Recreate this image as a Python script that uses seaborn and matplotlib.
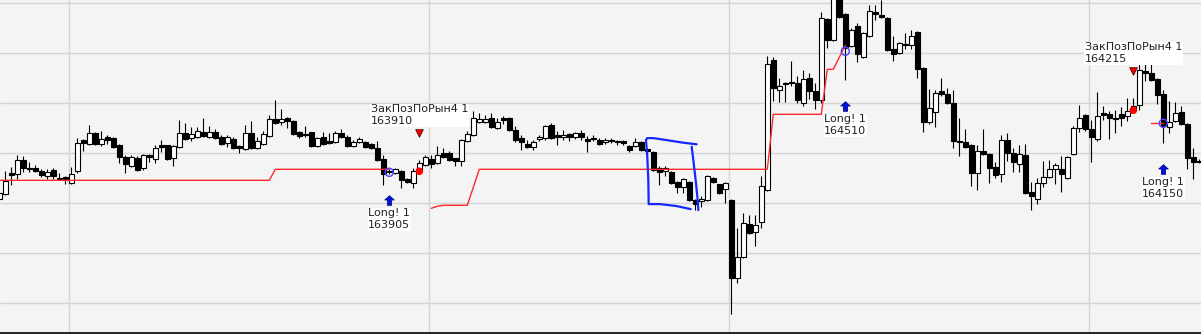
import numpy as np
import pandas as pd
import matplotlib
matplotlib.use("Agg")
import matplotlib.pyplot as plt
import seaborn as sns

nan = np.nan

# ---- candle data (index, open, high, low, close) ----
opens = [
    163770, 163795, 163900, 163895, 163965, 163925, 163925, 163910, 163885, 163915,
    163875, 163880, 163850, 163910, 164065, 164045, 164100, 164045, 164080, 164075,
    164040, 163980, 163935, 163975, 163925, 163990, 163970, 164040, 164040, 163975,
    164030, 164100, 164075, 164080, 164105, 164080, 164105, 164080, 164050, 164070,
    164035, 164020, 164100, 164025, 164045, 164085, 164170, 164155, 164175, 164160,
    164105, 164095, 164105, 164035, 164080, 164060, 164055, 164100, 164080, 164035,
    164055, 164055, 164045, 164025, 163970, 163905, 163900, 163910, 163870, 163850,
    163915, 163940, 163970, 163950, 164000, 164000, 163975, 163960, 164060, 164090,
    164155, 164155, 164175, 164125, 164175, 164175, 164115, 164075, 164045, 164030,
    164070, 164075, 164140, 164090, 164080, 164095, 164080, 164100, 164070, 164075,
    164065, 164055, 164065, 164060, 164060, 164035, 164035, 164055, 164020, 164005,
    163925, 163910, 163905, 163855, 163830, 163855, 163765, 163760, 163765, 163875,
    163845, 163820, 163765, 163375, 163480, 163645, 163605, 163655, 163815, 164465,
    164315, 164350, 164355, 164350, 164250, 164375, 164310, 164265, 164670, 164565,
    164790, 164695, 164535, 164635, 164480, 164585, 164705, 164690, 164675, 164520,
    164500, 164545, 164540, 164605, 164425, 164155, 164205, 164310, 164295, 164250,
    164060, 164055, 164040, 163900, 164010, 163995, 163930, 163895, 164065, 164000,
    163945, 163990, 163805, 163770, 163850, 163880, 163920, 163920, 163875, 163995,
    164125, 164190, 164120, 164070, 164200, 164195, 164175, 164195, 164185, 164215,
    164240, 164410, 164400, 164370, 164295, 164130, 164160, 164205, 164145, 163980,
    163960,
]
highs = [
    163810, 163910, 163930, 163990, 163985, 163955, 163940, 163920, 163920, 163925,
    163900, 163885, 163930, 164075, 164070, 164140, 164105, 164110, 164090, 164080,
    164045, 163990, 163990, 163985, 163995, 163995, 164040, 164065, 164040, 164040,
    164165, 164150, 164130, 164130, 164175, 164135, 164120, 164090, 164090, 164080,
    164040, 164140, 164160, 164080, 164110, 164190, 164265, 164220, 164180, 164165,
    164110, 164135, 164105, 164080, 164105, 164100, 164110, 164120, 164090, 164065,
    164080, 164060, 164050, 164060, 163990, 163925, 163925, 163915, 163875, 163925,
    163965, 163990, 163990, 164035, 164025, 164010, 163975, 164070, 164110, 164210,
    164200, 164190, 164200, 164175, 164185, 164180, 164135, 164090, 164065, 164065,
    164090, 164140, 164150, 164110, 164115, 164100, 164105, 164115, 164085, 164090,
    164075, 164075, 164075, 164065, 164065, 164040, 164075, 164060, 164025, 164010,
    163935, 163935, 163910, 163860, 163875, 163860, 163770, 163785, 163890, 163880,
    163845, 163855, 163770, 163625, 163700, 163690, 163690, 163885, 164485, 164480,
    164375, 164355, 164460, 164385, 164415, 164400, 164350, 164705, 164675, 164800,
    164800, 164700, 164625, 164650, 164605, 164740, 164740, 164765, 164680, 164585,
    164555, 164600, 164615, 164610, 164430, 164320, 164315, 164375, 164325, 164315,
    164175, 164120, 164045, 164040, 164120, 164000, 163955, 164090, 164100, 164025,
    164040, 164045, 163855, 163875, 163960, 163965, 163950, 163985, 163985, 164135,
    164240, 164195, 164165, 164305, 164235, 164210, 164215, 164230, 164275, 164275,
    164465, 164485, 164460, 164375, 164315, 164260, 164255, 164235, 164150, 164025,
    163970,
]
lows = [
    163765, 163790, 163840, 163870, 163905, 163905, 163905, 163880, 163870, 163870,
    163865, 163845, 163845, 163900, 164010, 164040, 164040, 164035, 164045, 164025,
    163950, 163900, 163930, 163910, 163915, 163955, 163950, 164005, 163965, 163935,
    164025, 164065, 164060, 164075, 164080, 164075, 164070, 164040, 164030, 164020,
    164000, 164015, 164020, 164020, 164040, 164080, 164145, 164140, 164125, 164090,
    164075, 164080, 164030, 164030, 164040, 164045, 164050, 164075, 164030, 164030,
    164050, 164025, 164020, 163960, 163840, 163895, 163895, 163825, 163850, 163825,
    163910, 163935, 163925, 163945, 163975, 163960, 163935, 163935, 164055, 164085,
    164150, 164150, 164125, 164120, 164145, 164110, 164055, 164015, 164025, 164015,
    164060, 164065, 164070, 164040, 164065, 164060, 164070, 164065, 164005, 164060,
    164040, 164045, 164050, 164040, 164040, 164005, 164030, 164010, 164000, 163910,
    163840, 163885, 163845, 163800, 163800, 163760, 163715, 163730, 163760, 163850,
    163795, 163750, 163195, 163350, 163475, 163595, 163535, 163625, 163810, 164260,
    164255, 164255, 164335, 164250, 164235, 164270, 164220, 164250, 164525, 164560,
    164675, 164365, 164530, 164455, 164475, 164580, 164665, 164675, 164510, 164460,
    164495, 164520, 164520, 164375, 164105, 164145, 164130, 164285, 164245, 164025,
    163985, 164025, 163835, 163815, 163990, 163850, 163875, 163855, 163960, 163905,
    163905, 163795, 163715, 163745, 163830, 163875, 163845, 163805, 163870, 163990,
    164105, 164110, 163955, 164060, 164165, 164070, 164100, 164135, 164160, 164210,
    164215, 164360, 164360, 164245, 164050, 164100, 164155, 164140, 163920, 163870,
    163950,
]
closes = [
    163800, 163860, 163890, 163965, 163925, 163920, 163910, 163890, 163905, 163885,
    163870, 163870, 163895, 164050, 164050, 164100, 164045, 164070, 164065, 164030,
    163980, 163945, 163980, 163915, 163990, 163980, 164025, 164030, 163970, 164035,
    164100, 164070, 164095, 164110, 164085, 164105, 164075, 164045, 164080, 164025,
    164025, 164100, 164025, 164060, 164095, 164170, 164150, 164170, 164160, 164095,
    164085, 164090, 164035, 164075, 164045, 164050, 164100, 164080, 164035, 164055,
    164070, 164030, 164025, 163965, 163895, 163910, 163920, 163865, 163855, 163910,
    163950, 163980, 163945, 163990, 163980, 163965, 163960, 164065, 164095, 164175,
    164170, 164170, 164130, 164155, 164165, 164115, 164065, 164055, 164030, 164055,
    164080, 164135, 164075, 164080, 164090, 164080, 164100, 164080, 164060, 164070,
    164045, 164065, 164060, 164055, 164050, 164015, 164055, 164015, 164010, 163915,
    163905, 163925, 163850, 163830, 163870, 163765, 163745, 163770, 163885, 163855,
    163800, 163850, 163375, 163480, 163650, 163600, 163640, 163835, 164445, 164325,
    164335, 164345, 164350, 164265, 164370, 164310, 164265, 164675, 164565, 164790,
    164680, 164525, 164615, 164495, 164600, 164710, 164695, 164680, 164515, 164495,
    164550, 164540, 164585, 164420, 164155, 164225, 164300, 164295, 164250, 164060,
    164055, 164030, 163900, 164010, 163995, 163925, 163890, 164065, 164000, 163955,
    163995, 163800, 163785, 163850, 163880, 163920, 163940, 163895, 163980, 164125,
    164175, 164120, 164080, 164185, 164190, 164175, 164170, 164175, 164210, 164235,
    164415, 164400, 164365, 164290, 164135, 164155, 164200, 164145, 163975, 163955,
    163955,
]

# ---- trailing stop line (red), NaN where not drawn ----
stop_line = [
    163865, 163865, 163865, 163865, 163865, 163865, 163865, 163865, 163865, 163865,
    163865, 163865, 163865, 163865, 163865, 163865, 163865, 163865, 163865, 163865,
    163865, 163865, 163865, 163865, 163865, 163865, 163865, 163865, 163865, 163865,
    163865, 163865, 163865, 163865, 163865, 163865, 163865, 163865, 163865, 163865,
    163865, 163865, 163865, 163865, 163865, 163865, 163920, 163920, 163920, 163920,
    163920, 163920, 163920, 163920, 163920, 163920, 163920, 163920, 163920, 163920,
    163920, 163920, 163920, 163920, 163920, 163920, nan, nan, nan, nan,
    nan, nan, 163725, 163735, 163740, 163740, 163740, 163740, 163740, 163830,
    163920, 163920, 163920, 163920, 163920, 163920, 163920, 163920, 163920, 163920,
    163920, 163920, 163920, 163920, 163920, 163920, 163920, 163920, 163920, 163920,
    163920, 163920, 163920, 163920, 163920, 163920, 163920, 163920, 163920, 163920,
    163920, 163920, 163920, 163920, 163920, 163920, 163920, 163920, 163920, 163920,
    163920, 163920, 163920, 163920, 163920, 163920, 163920, 163920, 163920, 164195,
    164195, 164195, 164195, 164195, 164195, 164195, 164195, 164195, 164420, 164420,
    164480, 164540, nan, nan, nan, nan, nan, nan, nan, nan,
    nan, nan, nan, nan, nan, nan, nan, nan, nan, nan,
    nan, nan, nan, nan, nan, nan, nan, nan, nan, nan,
    nan, nan, nan, nan, nan, nan, nan, nan, nan, nan,
    nan, nan, nan, nan, nan, nan, nan, nan, nan, nan,
    nan, nan, 164150, 164150, 164150, nan, nan, nan, nan, nan,
    nan,
]

# ---- trade signals ----
long_idx = [65, 141, 194]
long_price = [163905, 164510, 164150]
long_label = ["Long! 1", "Long! 1", "Long! 1"]
close_idx = [70, 189]
close_price = [163910, 164215]
close_label = ["ЗакПозПоРын4 1", "ЗакПозПоРын4 1"]

# ---- hand-drawn blue box (candle index, price) ----
box_a_k = [116.23, 114.0, 111.23, 109.0, 108.0, 107.78, 108.0, 108.17, 108.23, 110.12, 112.9, 115.23]
box_a_p = [164045, 164053, 164066, 164076, 164076, 164066, 163983, 163866, 163746, 163746, 163736, 163721]
box_b_k = [115.4, 115.67, 116.06, 116.34, 116.51]
box_b_p = [164033, 163966, 163866, 163783, 163716]

# ---- grid positions ----
price_grid = [163250, 163500, 163750, 164000, 164250, 164500, 164750]
time_grid = [11.67, 71.67, 121.67, 181.67]

# ================= drawing =================
sns.set_theme(style="whitegrid")
plt.rcParams["font.family"] = ["DejaVu Sans"]

W, H = 1201, 334
fig = plt.figure(figsize=(W / 100, H / 100), dpi=100)
fig.patch.set_facecolor("#f4f4f4")
ax = fig.add_axes([0, 1.5 / H, 1, 1 - 1.5 / H])
ax.set_facecolor("#f4f4f4")

df = pd.DataFrame({"o": opens, "h": highs, "l": lows, "c": closes})
df["k"] = np.arange(len(df))
up = df["c"] >= df["o"]

# wicks
ax.vlines(df["k"], df["l"], df["h"], color="black", lw=0.8, zorder=2)
# bodies
body_bottom = np.minimum(df["o"], df["c"])
body_h = np.maximum(np.abs(df["c"] - df["o"]), 1.5)
ax.bar(df["k"][up], body_h[up], bottom=body_bottom[up], width=0.78,
       color="white", edgecolor="black", linewidth=0.8, zorder=3)
ax.bar(df["k"][~up], body_h[~up], bottom=body_bottom[~up], width=0.78,
       color="black", edgecolor="black", linewidth=0.8, zorder=3)

# stop line through seaborn, split in segments at the gaps
sl = pd.DataFrame({"k": np.arange(len(stop_line)), "stop": stop_line}).dropna()
sl["seg"] = (sl["k"].diff() != 1).cumsum()
sns.lineplot(data=sl, x="k", y="stop", units="seg", estimator=None,
             color="#ff2a2a", lw=1.0, ax=ax, legend=False, zorder=4)

# hand drawn box
ax.plot(box_a_k, box_a_p, color="#1428ff", lw=1.6, zorder=6, solid_capstyle="round")
ax.plot(box_b_k, box_b_p, color="#1428ff", lw=1.6, zorder=6, solid_capstyle="round")

# markers for entries
arrow_marker = [(0, 1), (1, 0.1), (0.45, 0.1), (0.45, -1), (-0.45, -1),
                (-0.45, 0.1), (-1, 0.1), (0, 1)]
for k, p, lab in zip(long_idx, long_price, long_label):
    ax.scatter([k], [p], s=34, facecolors="none", edgecolors="#4646ff",
               linewidths=1.0, zorder=7)
    ap = lows[k] - 130
    ax.scatter([k], [ap], s=48, marker=arrow_marker, color="#0010e0",
               edgecolors="#000070", linewidths=0.5, zorder=7)
    ax.annotate(f"{lab}\n{p}", xy=(k, ap), xytext=(0, -8),
                textcoords="offset pixels", ha="center", va="top",
                multialignment="left", fontsize=8, color="#202020",
                linespacing=1.25, zorder=8,
                bbox=dict(facecolor="white", edgecolor="none", pad=0.5))

for k, p, lab in zip(close_idx, close_price, close_label):
    ax.scatter([k], [p], s=30, color="#ff0000", edgecolors="none", zorder=7)
    tp = highs[k] + 135
    ax.scatter([k], [tp], s=30, marker="v", color="#ee0000",
               edgecolors="#600000", linewidths=0.6, zorder=7)
    ax.annotate(f"{lab}\n{p}", xy=(k, tp), xytext=(0, 7),
                textcoords="offset pixels", ha="center", va="bottom",
                multialignment="left", fontsize=8, color="#202020",
                linespacing=1.25, zorder=8,
                bbox=dict(facecolor="white", edgecolor="none", pad=0.5))

# axes
ax.set_xlim(0.7 / 6, (W + 0.7) / 6)
ax.set_ylim(164766.5 - 5 * (H - 1.5), 164766.5)
ax.set_yticks(price_grid)
ax.set_xticks(time_grid)
ax.set_xticklabels([])
ax.set_yticklabels([])
ax.tick_params(length=0)
ax.set_xlabel("")
ax.set_ylabel("")
ax.grid(True, color="#d4d4d4", lw=1.0)
ax.set_axisbelow(True)
for s in ["left", "right", "top"]:
    ax.spines[s].set_visible(False)
ax.spines["bottom"].set_visible(True)
ax.spines["bottom"].set_color("black")
ax.spines["bottom"].set_linewidth(1.2)

fig.savefig("out.png", dpi=100, facecolor=fig.get_facecolor())
